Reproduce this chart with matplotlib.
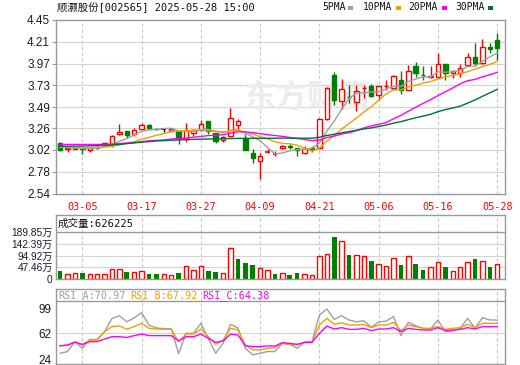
import matplotlib
matplotlib.use("Agg")
import matplotlib.pyplot as plt
from matplotlib.patches import Rectangle

plt.rcParams['font.family'] = ['Liberation Sans', 'Noto Sans CJK SC', 'DejaVu Sans']

# ---- data ----
dates = ["02-28", "03-03", "03-04", "03-05", "03-06", "03-07", "03-10", "03-11", "03-12", "03-13",
         "03-14", "03-17", "03-18", "03-19", "03-20", "03-21", "03-24", "03-25", "03-26", "03-27",
         "03-28", "03-31", "04-01", "04-02", "04-03", "04-07", "04-08", "04-09", "04-10", "04-11",
         "04-14", "04-15", "04-16", "04-17", "04-18", "04-21", "04-22", "04-23", "04-24", "04-25",
         "04-28", "04-29", "04-30", "05-06", "05-07", "05-08", "05-09", "05-12", "05-13", "05-14",
         "05-15", "05-16", "05-19", "05-20", "05-21", "05-22", "05-23", "05-26", "05-27", "05-28"]
label_dates = ["03-05", "03-17", "03-27", "04-09", "04-21", "05-06", "05-16", "05-28"]

opens = [3.092, 3.03, 3.035, 3.04, 3.017, 3.041, 3.07, 3.081, 3.192, 3.232,
         3.196, 3.25, 3.29, 3.25, 3.245, 3.23, 3.225, 3.135, 3.207, 3.235,
         3.34, 3.207, 3.128, 3.178, 3.293, 3.135, 2.99, 2.903, 3.0, 2.98,
         3.041, 3.058, 3.045, 2.99, 3.036, 3.045, 3.364, 3.847, 3.561, 3.606,
         3.547, 3.70, 3.726, 3.623, 3.72, 3.70, 3.792, 3.682, 3.945, 3.85,
         3.828, 3.828, 3.967, 3.865, 3.865, 3.956, 4.04, 3.982, 4.15, 4.23]
closes = [3.02, 3.04, 3.045, 3.03, 3.038, 3.041, 3.10, 3.178, 3.22, 3.189,
          3.235, 3.293, 3.257, 3.245, 3.245, 3.25, 3.153, 3.235, 3.235, 3.307,
          3.225, 3.117, 3.167, 3.368, 3.336, 3.02, 2.927, 2.948, 3.003, 2.983,
          3.063, 3.052, 3.016, 3.027, 3.03, 3.357, 3.70, 3.565, 3.693, 3.60,
          3.67, 3.705, 3.616, 3.726, 3.726, 3.836, 3.682, 3.89, 3.865, 3.846,
          3.832, 3.967, 3.865, 3.89, 3.927, 4.04, 3.975, 4.15, 4.13, 4.14]
highs = [3.106, 3.05, 3.05, 3.045, 3.052, 3.06, 3.106, 3.18, 3.307, 3.232,
         3.26, 3.314, 3.307, 3.26, 3.26, 3.26, 3.235, 3.32, 3.253, 3.35,
         3.34, 3.21, 3.178, 3.486, 3.36, 3.19, 3.034, 2.99, 3.034, 3.01,
         3.074, 3.08, 3.045, 3.063, 3.063, 3.368, 3.71, 3.883, 3.803, 3.737,
         3.737, 3.737, 3.748, 3.726, 3.79, 3.847, 3.894, 3.956, 3.993, 3.945,
         3.945, 4.084, 3.967, 3.90, 3.964, 4.084, 4.194, 4.238, 4.20, 4.311]
lows = [3.013, 3.0, 3.03, 2.98, 3.0, 3.027, 3.063, 3.056, 3.185, 3.153,
        3.178, 3.235, 3.25, 3.235, 3.22, 3.225, 3.081, 3.106, 3.178, 3.225,
        3.20, 3.10, 3.106, 3.17, 3.243, 3.02, 2.876, 2.704, 2.984, 2.95,
        3.027, 3.034, 2.955, 2.973, 2.998, 3.027, 3.35, 3.517, 3.47, 3.536,
        3.444, 3.59, 3.60, 3.572, 3.675, 3.682, 3.638, 3.675, 3.821, 3.79,
        3.81, 3.81, 3.784, 3.81, 3.828, 3.95, 3.956, 3.964, 4.084, 4.011]

ma5 = [3.05, 3.045, 3.04, 3.035, 3.035, 3.039, 3.051, 3.077, 3.115, 3.146,
       3.184, 3.223, 3.239, 3.244, 3.255, 3.258, 3.23, 3.226, 3.224, 3.236,
       3.231, 3.224, 3.21, 3.237, 3.243, 3.202, 3.164, 3.12, 3.047, 2.976,
       2.985, 3.01, 3.023, 3.028, 3.038, 3.096, 3.226, 3.336, 3.469, 3.583,
       3.646, 3.647, 3.657, 3.663, 3.689, 3.722, 3.717, 3.772, 3.8, 3.824,
       3.823, 3.88, 3.875, 3.88, 3.896, 3.938, 3.939, 3.996, 4.044, 4.087]
ma10 = [3.05, 3.05, 3.048, 3.045, 3.045, 3.045, 3.05, 3.06, 3.075, 3.09,
        3.112, 3.137, 3.158, 3.18, 3.2, 3.221, 3.227, 3.232, 3.234, 3.246,
        3.245, 3.227, 3.218, 3.23, 3.239, 3.216, 3.194, 3.165, 3.142, 3.109,
        3.093, 3.087, 3.072, 3.038, 3.007, 3.041, 3.118, 3.18, 3.249, 3.31,
        3.371, 3.436, 3.496, 3.566, 3.636, 3.684, 3.682, 3.714, 3.732, 3.756,
        3.772, 3.799, 3.824, 3.84, 3.86, 3.88, 3.91, 3.936, 3.962, 3.992]
ma20 = [3.08, 3.08, 3.08, 3.08, 3.08, 3.08, 3.08, 3.085, 3.09, 3.095,
        3.10, 3.11, 3.12, 3.125, 3.13, 3.14, 3.145, 3.15, 3.16, 3.168,
        3.178, 3.182, 3.188, 3.205, 3.22, 3.219, 3.21, 3.199, 3.188, 3.178,
        3.169, 3.157, 3.145, 3.134, 3.123, 3.129, 3.156, 3.172, 3.195, 3.21,
        3.232, 3.262, 3.284, 3.302, 3.321, 3.362, 3.4, 3.447, 3.49, 3.533,
        3.572, 3.618, 3.66, 3.703, 3.748, 3.782, 3.796, 3.825, 3.847, 3.874]
ma30 = [3.06, 3.06, 3.062, 3.063, 3.065, 3.067, 3.07, 3.075, 3.08, 3.09,
        3.097, 3.105, 3.112, 3.118, 3.122, 3.126, 3.13, 3.133, 3.136, 3.138,
        3.14, 3.142, 3.143, 3.145, 3.147, 3.148, 3.148, 3.148, 3.148, 3.148,
        3.15, 3.15, 3.149, 3.149, 3.149, 3.159, 3.179, 3.192, 3.208, 3.222,
        3.236, 3.25, 3.262, 3.278, 3.294, 3.314, 3.331, 3.353, 3.374, 3.392,
        3.412, 3.441, 3.464, 3.481, 3.501, 3.535, 3.57, 3.61, 3.648, 3.686]

# volume in 万 (10k shares)
volume = [32.5, 20.3, 23, 24.4, 20.3, 20.3, 20.3, 40.7, 40.7, 28.5,
          28.5, 31.2, 20.3, 20.3, 19, 16.3, 24.4, 51.5, 36.6, 51.5,
          32.5, 27.1, 23, 124.8, 81.4, 65.1, 57, 43.4, 35.3, 20.3,
          23, 16.3, 24.4, 19, 14.9, 92.2, 100.3, 170.9, 154.6, 97.6,
          96.3, 92.2, 73.2, 61, 52.9, 85.4, 57, 92.2, 61, 36.6,
          48.8, 67.8, 48.8, 32.5, 48.8, 67.8, 81.4, 71.9, 48.8, 62.6]
vol_up = [0, 1, 1, 0, 1, 1, 1, 1, 1, 0,
          1, 1, 0, 0, 1, 1, 0, 1, 1, 1,
          0, 0, 1, 1, 0, 0, 0, 1, 1, 0,
          1, 0, 0, 1, 1, 1, 1, 0, 1, 0,
          1, 1, 0, 1, 1, 1, 0, 1, 0, 0,
          1, 1, 0, 1, 1, 1, 0, 1, 0, 1]
vol_ticks = [0, 47.46, 94.92, 142.39, 189.85]
vol_labels = ["0", "47.46万", "94.92万", "142.39万", "189.85万"]

rsi_a = [32.4, 35, 49.7, 39.8, 53, 53, 64.5, 84, 88, 79,
         85, 92.5, 74, 70, 69, 69, 32, 62, 62, 76.8,
         54.6, 32.4, 47.2, 75.3, 70, 40, 30, 32.4, 35, 35,
         47.2, 45.7, 39.8, 48.7, 49.7, 89, 98, 82.7, 88, 81.7,
         79, 80.7, 70.9, 79, 80, 86.7, 58.6, 78.3, 73.3, 69.4,
         68.4, 81.7, 64.5, 65.5, 69.4, 84.2, 69.4, 85.2, 81.7, 81.7]
rsi_b = [43, 44.8, 49.7, 44.8, 52, 52, 64.5, 72, 73, 68,
         72, 76.8, 69.4, 68.4, 68, 68, 49.7, 61, 61, 68.4,
         57, 45.7, 52, 69.4, 67, 44.8, 37.4, 37.4, 39.8, 40.8,
         47.2, 45.7, 44.8, 48.7, 48.7, 74.3, 84.2, 75.3, 77.8, 74.3,
         74.3, 75.3, 70.4, 74.3, 74.3, 78.3, 66, 74.3, 71.9, 69.4,
         69.4, 71.9, 67.9, 69.4, 70.4, 75.3, 70.4, 76.8, 76.8, 76.8]
rsi_c = [43.8, 44.5, 48.7, 45.7, 49.7, 49.7, 53.6, 57, 57, 56,
         58.6, 61, 58.6, 58.6, 58.6, 58.6, 50.7, 57, 57, 61,
         54.6, 48.7, 50.7, 61, 59.5, 43.8, 42.3, 42.3, 43.3, 43.3,
         48.2, 47.2, 45.7, 48.7, 48.7, 62, 72.8, 68.4, 70.4, 67.9,
         67.9, 69.4, 66, 68.4, 68.4, 70.4, 64.5, 69.4, 67.9, 66.9,
         66.9, 70.4, 66, 66.9, 67.9, 70.4, 68.4, 71.9, 71.9, 71.9]

price_ticks = [2.54, 2.78, 3.02, 3.26, 3.49, 3.73, 3.97, 4.21, 4.45]

RED = "#ff0000"
GREEN = "#008000"
MA_COLORS = ["#a0a0a0", "#f0a000", "#ff00ff", "#00703c"]
GRID = "#d4d4d4"
SPINE = "#999999"
W, H = 520, 365

fig = plt.figure(figsize=(W / 100, H / 100), dpi=100)


def axes_px(left, top, right, bottom):
    return fig.add_axes([left / W, 1 - bottom / H, (right - left) / W, (bottom - top) / H])


ax = axes_px(55.5, 20, 505, 193.5)
axv = axes_px(55.5, 215, 505, 279)
axr = axes_px(55.5, 289, 505, 364)

n = len(closes)
xs = list(range(n))
label_pos = [dates.index(d) for d in label_dates]

for a in (ax, axv, axr):
    a.set_xlim(-0.62, 60.05)
    for s in a.spines.values():
        s.set_color(SPINE)
        s.set_linewidth(1.0)
    for p in label_pos:
        a.axvline(p, color="#c8c8c8", lw=0.8, ls=(0, (3, 2.2)), zorder=0)

# ---- price panel ----
ax.set_ylim(2.54, 4.45)
for t in price_ticks[1:-1]:
    ax.axhline(t, color=GRID, lw=0.8, zorder=0)
ax.text(0.56, 0.55, "东方财富", transform=ax.transAxes, fontsize=23, color="#ececec",
        fontweight="bold", ha="center", va="center", family="Noto Sans CJK SC", zorder=0)

for i in xs:
    o, c, h, l = opens[i], closes[i], highs[i], lows[i]
    if c > o:
        col = RED
    elif c < o:
        col = GREEN
    else:
        col = "#000000"
    ax.vlines(i, l, h, color=col, lw=1.0, zorder=2)
    if abs(c - o) < 0.004:
        ax.hlines(o, i - 0.32, i + 0.32, color=col, lw=1.2, zorder=3)
    else:
        face = "white" if c > o else GREEN
        ax.add_patch(Rectangle((i - 0.3, min(o, c)), 0.6, abs(c - o), facecolor=face,
                               edgecolor=col, lw=1.0, zorder=3))

for ma, col in zip([ma5, ma10, ma20, ma30], MA_COLORS):
    ax.plot(xs, ma, color=col, lw=1.0, zorder=4)

ax.set_yticks(price_ticks)
ax.set_yticklabels([f"{t:.2f}" for t in price_ticks], fontsize=8.5, color="#1a1a2a")
ax.tick_params(axis="y", length=3, width=0.8, color=SPINE, pad=1)
ax.set_xticks(label_pos)
ax.set_xticklabels(label_dates, fontsize=7.3, color=RED, family="DejaVu Sans Mono")
ax.tick_params(axis="x", length=0, pad=6)

# ---- volume panel ----
vol_top = 260.4
axv.set_ylim(0, vol_top)
for t in vol_ticks[1:4]:
    axv.axhline(t, color=GRID, lw=0.8, zorder=0)
axv.axhline(vol_ticks[4], color=SPINE, lw=1.0, zorder=1)
for i in xs:
    if vol_up[i]:
        axv.bar(i, volume[i], width=0.6, facecolor="white", edgecolor=RED, lw=1.0, zorder=2)
    else:
        axv.bar(i, volume[i], width=0.62, color=GREEN, lw=0, zorder=2)
axv.set_yticks(vol_ticks)
axv.set_yticklabels(vol_labels, fontsize=7.3, color="#1a1a2a")
axv.tick_params(axis="y", length=0, pad=2)
axv.set_xticks([])
axv.text(0.004, 0.86, "成交量:626225", transform=axv.transAxes, fontsize=7.6,
         family=["DejaVu Sans Mono", "Noto Sans CJK SC"], va="center", ha="left", color="#111111")

# ---- RSI panel ----
axr.set_ylim(16.6, 127.6)
axr.axhline(62, color=GRID, lw=0.8, zorder=0)
axr.axhline(109.9, color=SPINE, lw=1.0, zorder=1)
for vals, col in zip([rsi_a, rsi_b, rsi_c], MA_COLORS[:3]):
    axr.plot(xs, vals, color=col, lw=1.0, zorder=3)
axr.set_yticks([24, 62, 99])
axr.set_yticklabels(["24", "62", "99"], fontsize=8.5, color="#1a1a2a")
axr.tick_params(axis="y", length=0, pad=3)
axr.set_xticks([])
rsi_texts = [("RSI_A:70.97", MA_COLORS[0], 58), ("RSI_B:67.92", MA_COLORS[1], 130),
             ("RSI_C:64.38", MA_COLORS[2], 202)]
for txt, col, xp in rsi_texts:
    fig.text(xp / W, 1 - 295.5 / H, txt, fontsize=7.3, family="DejaVu Sans Mono",
             color=col, va="center", ha="left")

# ---- header ----
fig.text(57 / W, 1 - 7.5 / H, "顺灏股份[002565] 2025-05-28 15:00", fontsize=7.5,
         family=["DejaVu Sans Mono", "Noto Sans CJK SC"], va="center", ha="left", color="#111111")
legend_items = [("5PMA", 322, 348), ("10PMA", 363, 396), ("20PMA", 408, 442), ("30PMA", 455, 488)]
for (txt, tx, sx), col in zip(legend_items, MA_COLORS):
    fig.text(tx / W, 1 - 7.5 / H, txt, fontsize=7, family="DejaVu Sans Mono",
             va="center", ha="left", color="#111111")
    fig.patches.append(Rectangle((sx / W, 1 - 9.5 / H), 5 / W, 4 / H, facecolor=col,
                                 edgecolor="none", transform=fig.transFigure, figure=fig))

fig.savefig("out.png", dpi=100)
